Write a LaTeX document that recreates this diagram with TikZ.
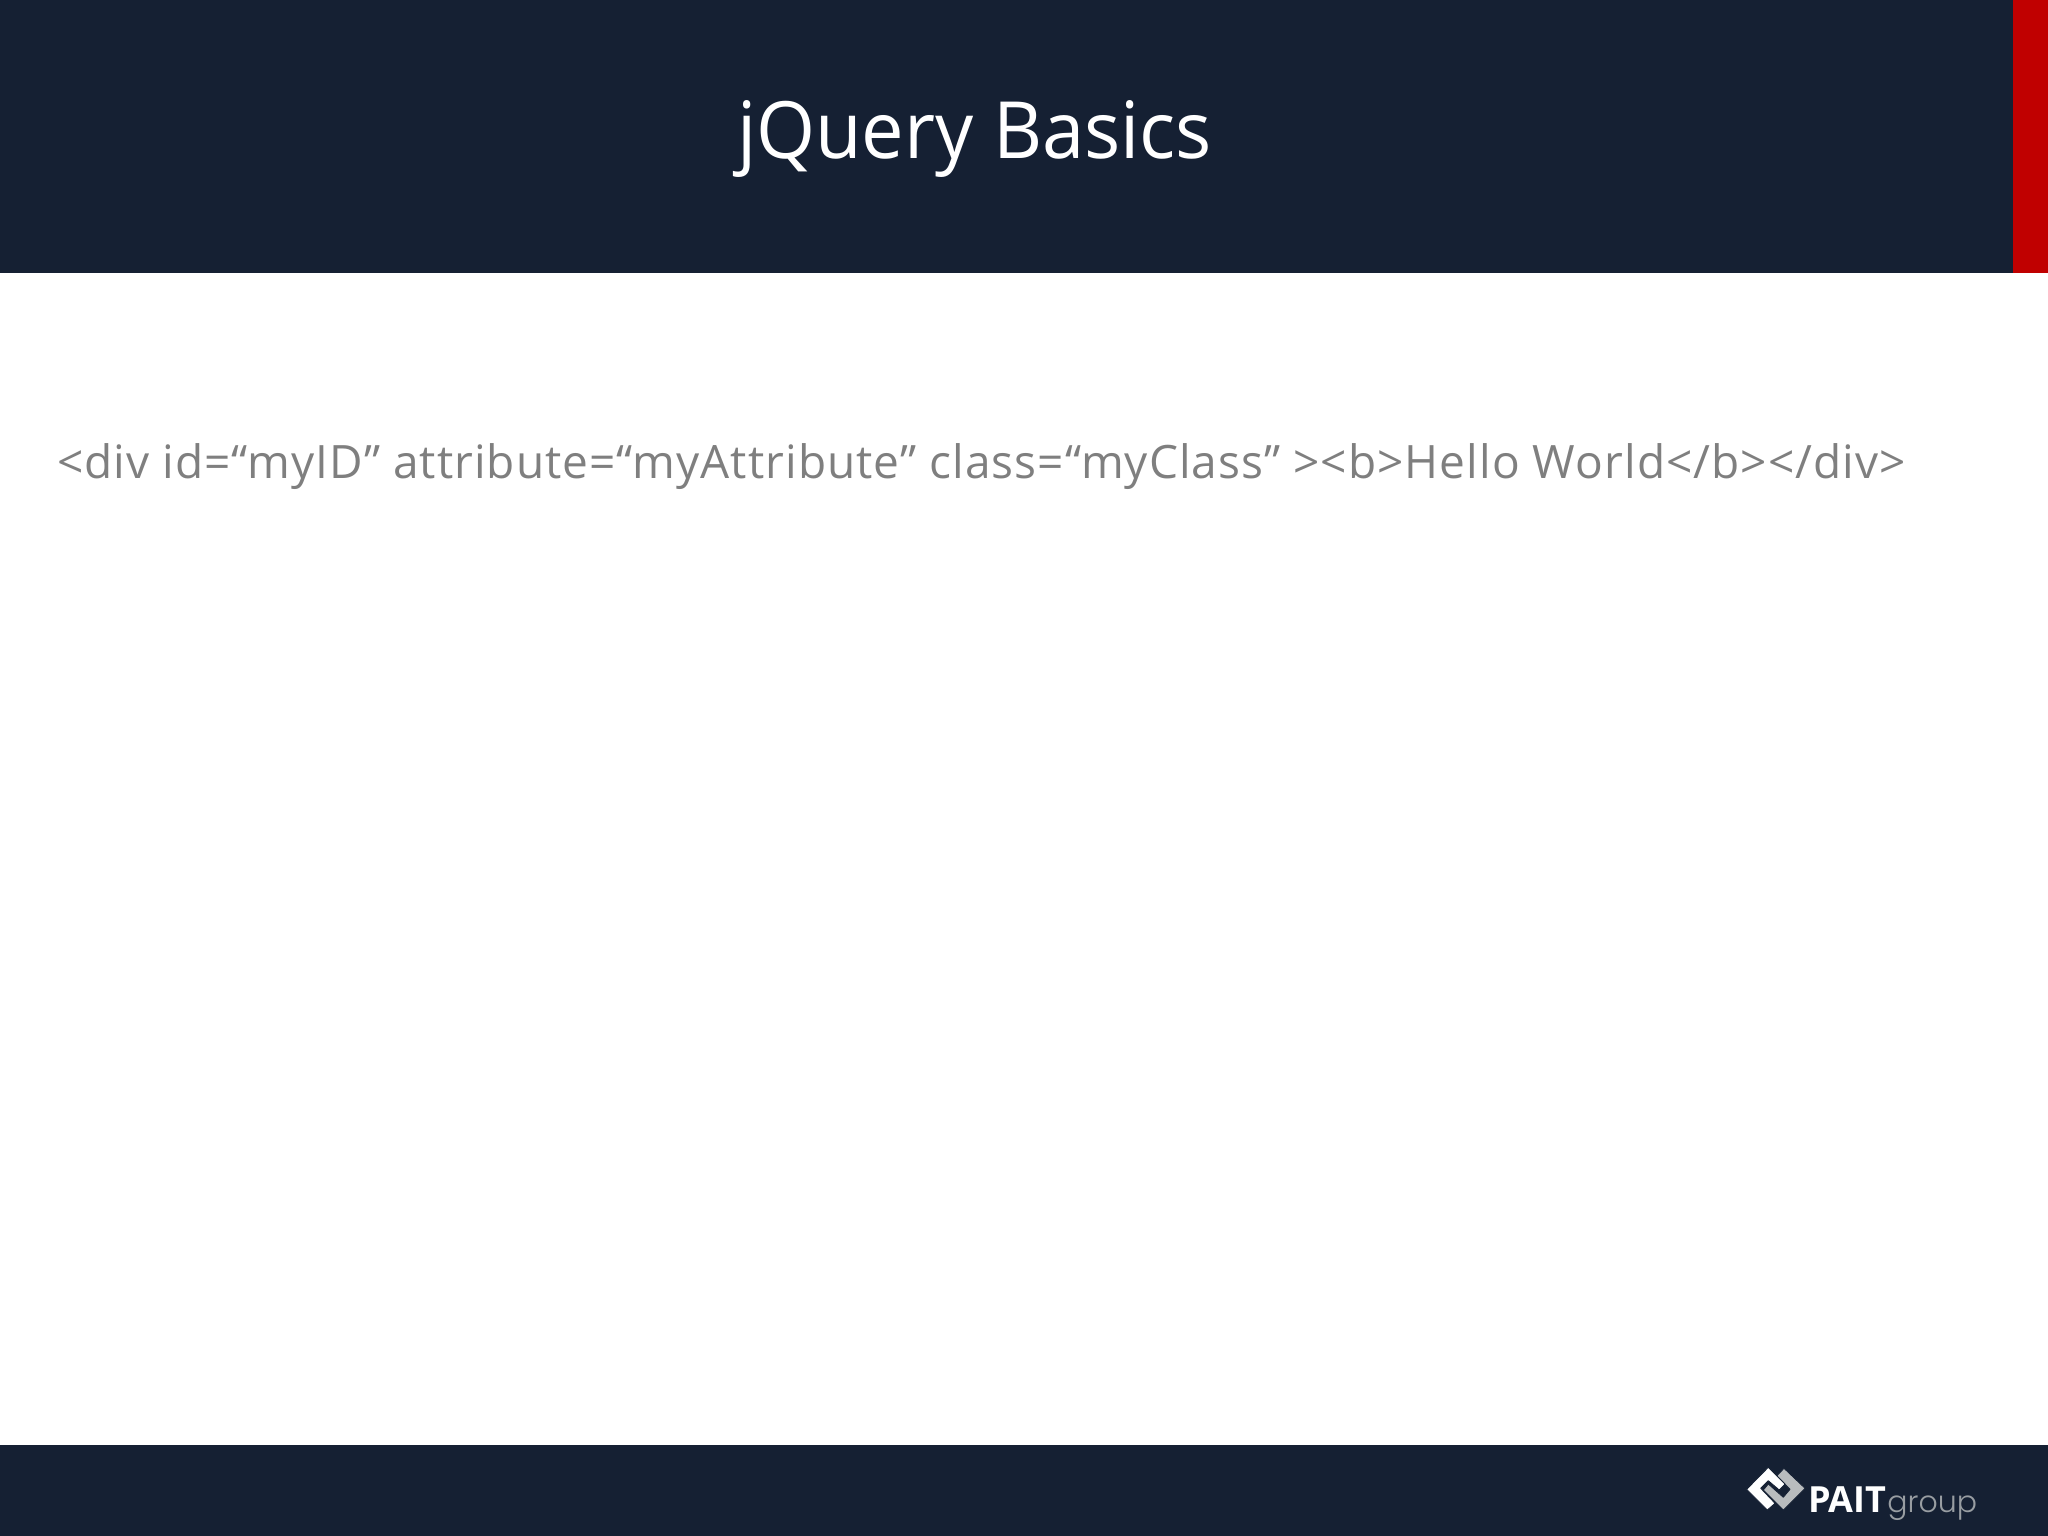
\documentclass[tikz,border=0pt]{standalone}
\usepackage{fontspec}
\setmainfont{Open Sans}
\newfontfamily\titlefont[FakeStretch=0.96]{Open Sans}
\newfontfamily\codefont[LetterSpace=2.3]{Open Sans}
\newfontfamily\logofont{Poppins Light}
\usetikzlibrary{positioning}
\definecolor{navy}{RGB}{21,32,51}
\definecolor{barred}{RGB}{192,0,0}
\definecolor{bodygray}{RGB}{127,127,127}
\definecolor{logogray}{RGB}{185,188,190}
\begin{document}
\begin{tikzpicture}[
    x=1pt, y=-1pt,
    every node/.style={inner sep=0pt, outer sep=0pt},
    titletext/.style={anchor=base west, text=white, font=\titlefont\fontsize{79}{90}\selectfont},
    bodytext/.style={anchor=base west, text=bodygray, font=\codefont\fontsize{46}{54}\selectfont},
    logobold/.style={anchor=base west, text=white, font=\fontsize{36}{40}\selectfont\bfseries},
    logolight/.style={anchor=base west, text=logogray!80!navy, font=\logofont\fontsize{30}{40}\selectfont},
    logomark/.style={draw=navy, line width=0.8pt, line join=round}
]
    \useasboundingbox (0,0) rectangle (2048,1536);

    % Bands
    \fill[navy] (0,0) rectangle (2013,273);
    \fill[barred] (2013,0) rectangle (2048,273);
    \fill[navy] (0,1445) rectangle (2048,1536);

    % Texts
    \node[titletext] (title) at (737,158) {jQuery Basics};
    \node[bodytext] (code) at (57,478) {<div id=“myID” attribute=“myAttribute” class=“myClass” ><b>Hello World</b></div>};

    % Logo
    \filldraw[logomark, fill=logogray] (1784,1468.3) -- (1805,1488.3) -- (1783.3,1510) -- (1763.3,1490) -- (1768.3,1484) -- (1783.3,1497.3) -- (1790,1489.3) -- (1776.7,1476) -- cycle;
    \filldraw[logomark, fill=white] (1768.3,1467.3) -- (1785,1484) -- (1779.3,1490) -- (1768.3,1480.7) -- (1760.7,1488.3) -- (1775,1503.3) -- (1767.3,1510) -- (1746.7,1489.3) -- cycle;
    \node[logobold] (pait) at (1808,1512) {PAIT};
    \node[logolight, right=1pt of pait.base east, anchor=base west] (group) {group};
\end{tikzpicture}
\end{document}
